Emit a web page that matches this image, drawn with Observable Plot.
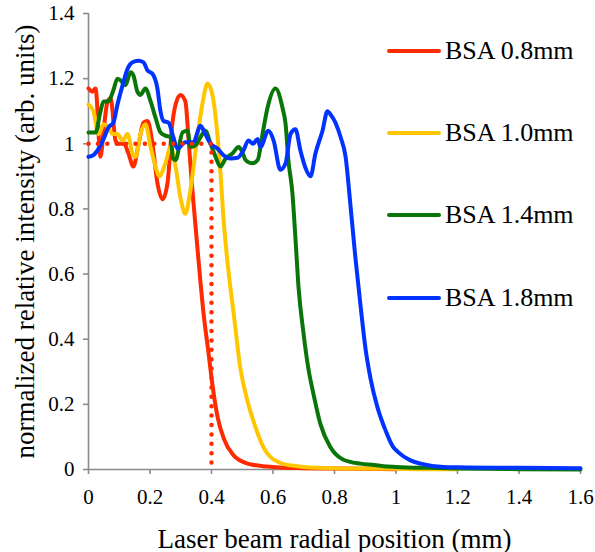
<!DOCTYPE html>
<html><head><meta charset="utf-8">
<script src="https://cdn.jsdelivr.net/npm/d3@7"></script>
<script src="https://cdn.jsdelivr.net/npm/@observablehq/plot@0.6"></script>
<style>
body{margin:0;background:#fff;}
#wrap{position:relative;width:595px;height:552px;font-family:'Liberation Serif','Times New Roman',serif;}
.leg{position:absolute;left:387px;display:flex;align-items:center;font-size:26px;line-height:1;color:#000;white-space:nowrap;}
.leg .sw{display:inline-block;width:54px;height:4px;border-radius:2px;margin-right:4px;}
</style></head><body><div id="wrap"></div>
<script>
const seriesNames = ["BSA 0.8mm", "BSA 1.0mm", "BSA 1.4mm", "BSA 1.8mm"];
const seriesColors = ["#ff2a00", "#ffc600", "#0a760a", "#0033ff"];
const xTicks = [0, 0.2, 0.4, 0.6, 0.8, 1, 1.2, 1.4, 1.6];
const yTicks = [0, 0.2, 0.4, 0.6, 0.8, 1, 1.2, 1.4];
const refX = [0, 0.4, 0.4];
const refY = [1, 1, 0];

const bsa08 = [[0,1.17],[0.012,1.16],[0.023,1.17],[0.039,0.96],[0.05,1.05],[0.062,1.13],[0.072,1.14],[0.088,1.01],[0.098,1.0],[0.115,1.0],[0.13,0.97],[0.146,0.93],[0.163,1.0],[0.179,1.065],[0.192,1.07],[0.208,1.0],[0.224,0.88],[0.241,0.83],[0.257,0.88],[0.273,1.065],[0.283,1.12],[0.299,1.15],[0.315,1.13],[0.325,1.02],[0.335,0.89],[0.345,0.78],[0.358,0.64],[0.374,0.48],[0.39,0.36],[0.403,0.26],[0.42,0.16],[0.44,0.095],[0.47,0.045],[0.517,0.018],[0.58,0.009],[0.62,0.006],[0.7,0.004],[0.8,0.003],[0.9,0.002],[1.0,0.001]];

const bsa10 = [[0,1.12],[0.016,1.10],[0.033,1.03],[0.049,1.06],[0.065,1.05],[0.078,1.03],[0.094,1.03],[0.111,1.01],[0.127,1.03],[0.143,0.97],[0.153,0.96],[0.169,1.03],[0.185,1.06],[0.202,0.99],[0.218,0.93],[0.23,0.90],[0.25,0.94],[0.267,0.99],[0.283,0.93],[0.3,0.83],[0.315,0.785],[0.33,0.85],[0.354,1.02],[0.37,1.12],[0.387,1.185],[0.403,1.15],[0.42,1.02],[0.43,0.90],[0.439,0.77],[0.455,0.61],[0.472,0.48],[0.494,0.31],[0.517,0.21],[0.543,0.13],[0.569,0.068],[0.59,0.04],[0.624,0.02],[0.66,0.012],[0.7,0.008],[0.8,0.004],[0.9,0.003],[1.0,0.002],[1.1,0.001],[1.2,0.001]];

const bsa14 = [[0,1.035],[0.023,1.035],[0.039,1.10],[0.049,1.13],[0.065,1.13],[0.081,1.165],[0.094,1.20],[0.104,1.195],[0.12,1.18],[0.137,1.22],[0.146,1.21],[0.159,1.16],[0.169,1.15],[0.185,1.17],[0.202,1.13],[0.218,1.08],[0.234,1.035],[0.25,1.025],[0.267,1.02],[0.275,0.955],[0.283,0.95],[0.306,1.035],[0.322,1.04],[0.332,0.99],[0.348,0.995],[0.364,1.02],[0.38,1.04],[0.397,1.0],[0.413,0.96],[0.429,0.93],[0.446,0.955],[0.468,0.97],[0.488,0.99],[0.5,0.975],[0.511,0.95],[0.533,0.94],[0.55,0.95],[0.566,1.03],[0.582,1.11],[0.608,1.17],[0.631,1.11],[0.641,1.06],[0.65,0.95],[0.663,0.85],[0.673,0.71],[0.683,0.56],[0.699,0.42],[0.715,0.31],[0.732,0.23],[0.754,0.14],[0.787,0.068],[0.829,0.03],[0.885,0.018],[0.93,0.014],[0.96,0.01],[1.0,0.008],[1.1,0.005],[1.2,0.003],[1.4,0.001],[1.6,0]];

const bsa18 = [[0,0.96],[0.016,0.965],[0.033,0.985],[0.049,1.015],[0.065,1.05],[0.081,1.065],[0.094,1.12],[0.111,1.18],[0.127,1.23],[0.143,1.25],[0.163,1.255],[0.179,1.25],[0.192,1.225],[0.208,1.215],[0.224,1.17],[0.234,1.10],[0.244,1.07],[0.26,1.065],[0.276,1.02],[0.289,0.985],[0.315,1.005],[0.341,1.005],[0.364,1.055],[0.38,1.03],[0.397,1.0],[0.42,0.985],[0.439,0.965],[0.462,0.955],[0.485,0.957],[0.504,0.98],[0.52,1.01],[0.535,1.0],[0.55,1.015],[0.559,0.99],[0.585,1.04],[0.602,1.01],[0.624,0.92],[0.641,0.94],[0.657,1.03],[0.673,1.045],[0.689,0.98],[0.706,0.925],[0.722,0.90],[0.738,0.97],[0.761,1.04],[0.777,1.10],[0.787,1.09],[0.803,1.065],[0.82,1.02],[0.836,0.96],[0.852,0.81],[0.868,0.65],[0.885,0.50],[0.901,0.37],[0.917,0.28],[0.94,0.19],[0.966,0.12],[0.99,0.07],[1.005,0.055],[1.047,0.028],[1.08,0.018],[1.154,0.008],[1.2,0.007],[1.4,0.005],[1.6,0.004]];

const seriesData = [bsa08, bsa10, bsa14, bsa18];
const rows = seriesData.flatMap((s, i) => s.map(([x, y]) => ({name: seriesNames[i], x, y})));
const refRows = refX.map((x, i) => ({x, y: refY[i]}));

const plot = Plot.plot({
  width: 595, height: 552,
  marginLeft: 88, marginRight: 15, marginTop: 13, marginBottom: 83,
  style: {fontFamily: "'Liberation Serif','Times New Roman',serif", fontSize: "21px", color: "#000", background: "#fff", overflow: "visible"},
  x: {domain: [0, 1.6]},
  y: {domain: [0, 1.4]},
  color: {domain: seriesNames, range: seriesColors},
  marks: [
    Plot.ruleX([0], {stroke: "#8a8a8a", strokeWidth: 1.6}),
    Plot.ruleY([0], {stroke: "#8a8a8a", strokeWidth: 1.6}),
    Plot.axisX({ticks: xTicks, tickFormat: d => String(d), tickSize: 5, tickPadding: 15, stroke: "#8a8a8a", strokeWidth: 1.6,
      label: "Laser beam radial position (mm)", labelAnchor: "center", labelArrow: "none", labelOffset: 78}),
    Plot.axisY({ticks: yTicks, tickFormat: d => String(d), tickSize: 5, tickPadding: 9, stroke: "#8a8a8a", strokeWidth: 1.6,
      label: "normalized relative intensity (arb. units)", labelAnchor: "center", labelArrow: "none", labelOffset: 74}),
    Plot.line(rows, {x: "x", y: "y", z: "name", stroke: "name", strokeWidth: 4, strokeLinejoin: "round", strokeLinecap: "round", curve: "monotone-x"}),
    Plot.line(refRows, {x: "x", y: "y", stroke: seriesColors[0], strokeWidth: 4.5, strokeDasharray: "0 9.4", strokeLinecap: "round"})
  ]
});

d3.select(plot).selectAll('g[aria-label="x-axis label"] text, g[aria-label="y-axis label"] text').style("font-size", "27px");

const wrap = document.getElementById("wrap");
wrap.appendChild(plot);
const legendTops = [51, 133, 215, 298];
seriesNames.forEach((n, i) => {
  const d = document.createElement("div");
  d.className = "leg";
  d.style.top = (legendTops[i] - 13) + "px";
  d.style.height = "26px";
  d.innerHTML = `<span class="sw" style="background:${seriesColors[i]}"></span><span>${n}</span>`;
  wrap.appendChild(d);
});
</script>
</body></html>
